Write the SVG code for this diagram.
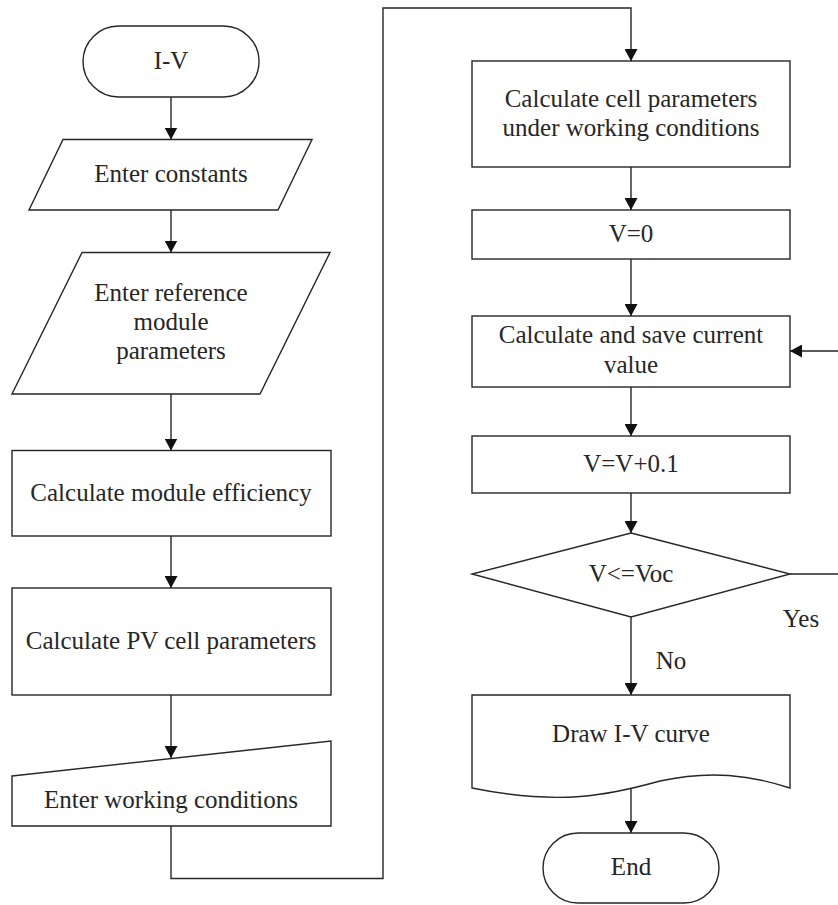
<svg xmlns="http://www.w3.org/2000/svg" width="838" height="905" viewBox="0 0 838 905">
<defs>
<style>
.s{fill:#fff;stroke:#262626;stroke-width:1.4}
.c{fill:none;stroke:#262626;stroke-width:1.4}
.t{font-family:'Liberation Serif','Times New Roman','DejaVu Serif',serif;font-size:25px;fill:#262626;text-anchor:middle}
</style>
<marker id="a" viewBox="0 0 12 13" refX="12" refY="6.5" markerWidth="12" markerHeight="13" markerUnits="userSpaceOnUse" orient="auto">
<path d="M0,0 L12,6.5 L0,13 Z" fill="#111"/>
</marker>
</defs>
<rect width="838" height="905" fill="#fff"/>
<g id="connectors">
<line class="c" x1="171" y1="97" x2="171" y2="139.5" marker-end="url(#a)"/>
<line class="c" x1="171" y1="210" x2="171" y2="252.5" marker-end="url(#a)"/>
<line class="c" x1="171" y1="394" x2="171" y2="450.5" marker-end="url(#a)"/>
<line class="c" x1="171" y1="536" x2="171" y2="588" marker-end="url(#a)"/>
<line class="c" x1="171" y1="695" x2="171" y2="758" marker-end="url(#a)"/>
<path class="c" d="M171,826 V878.5 H383 V8 H631 V61" marker-end="url(#a)"/>
<line class="c" x1="631" y1="167" x2="631" y2="210" marker-end="url(#a)"/>
<line class="c" x1="631" y1="259" x2="631" y2="316" marker-end="url(#a)"/>
<line class="c" x1="631" y1="387" x2="631" y2="436" marker-end="url(#a)"/>
<line class="c" x1="631" y1="493" x2="631" y2="533" marker-end="url(#a)"/>
<path class="c" d="M790,574 H842 V351 H790" marker-end="url(#a)"/>
<line class="c" x1="631" y1="617" x2="631" y2="695" marker-end="url(#a)"/>
<line class="c" x1="631" y1="788" x2="631" y2="833" marker-end="url(#a)"/>
<text class="t" font-family="Liberation Serif, serif" x="801" y="627">Yes</text>
<text class="t" font-family="Liberation Serif, serif" x="671" y="669">No</text>
</g>
<g id="start">
<rect class="s" x="83" y="26" width="176" height="71" rx="35.5"/>
<text class="t" font-family="Liberation Serif, serif" x="171" y="69">I-V</text>
</g>
<g id="enter-constants">
<polygon class="s" points="63,139.5 312,139.5 278,210 29,210"/>
<text class="t" font-family="Liberation Serif, serif" x="171" y="182">Enter constants</text>
</g>
<g id="enter-reference">
<polygon class="s" points="82,252.5 330,252.5 260,394 12,394"/>
<text class="t" font-family="Liberation Serif, serif" x="171" y="301">Enter reference</text>
<text class="t" font-family="Liberation Serif, serif" x="171" y="330">module</text>
<text class="t" font-family="Liberation Serif, serif" x="171" y="359">parameters</text>
</g>
<g id="module-efficiency">
<rect class="s" x="12" y="450.5" width="319" height="85.5"/>
<text class="t" font-family="Liberation Serif, serif" x="171" y="501">Calculate module efficiency</text>
</g>
<g id="pv-cell-parameters">
<rect class="s" x="12" y="588" width="319" height="107"/>
<text class="t" font-family="Liberation Serif, serif" x="171" y="649">Calculate PV cell parameters</text>
</g>
<g id="working-conditions">
<polygon class="s" points="12,776 331,741 331,826 12,826"/>
<text class="t" font-family="Liberation Serif, serif" x="171" y="808">Enter working conditions</text>
</g>
<g id="cell-parameters-working">
<rect class="s" x="472" y="61" width="318" height="106"/>
<text class="t" font-family="Liberation Serif, serif" x="631" y="107">Calculate cell parameters</text>
<text class="t" font-family="Liberation Serif, serif" x="631" y="136">under working conditions</text>
</g>
<g id="v-zero">
<rect class="s" x="472" y="210" width="318" height="49"/>
<text class="t" font-family="Liberation Serif, serif" x="631" y="242">V=0</text>
</g>
<g id="save-current">
<rect class="s" x="472" y="316" width="318" height="71"/>
<text class="t" font-family="Liberation Serif, serif" x="631" y="343">Calculate and save current</text>
<text class="t" font-family="Liberation Serif, serif" x="631" y="373">value</text>
</g>
<g id="v-increment">
<rect class="s" x="472" y="436" width="318" height="57"/>
<text class="t" font-family="Liberation Serif, serif" x="631" y="472">V=V+0.1</text>
</g>
<g id="decision">
<polygon class="s" points="631,533 790,574 631,617 472,574"/>
<text class="t" font-family="Liberation Serif, serif" x="631" y="582">V&lt;=Voc</text>
</g>
<g id="draw-curve">
<path class="s" d="M472,695 H790 V788 C750,775 710,770 660,781 C610,795 560,806 472,788 Z"/>
<text class="t" font-family="Liberation Serif, serif" x="631" y="742">Draw I-V curve</text>
</g>
<g id="end">
<rect class="s" x="543" y="833" width="176" height="70" rx="35"/>
<text class="t" font-family="Liberation Serif, serif" x="631" y="875">End</text>
</g>
</svg>
